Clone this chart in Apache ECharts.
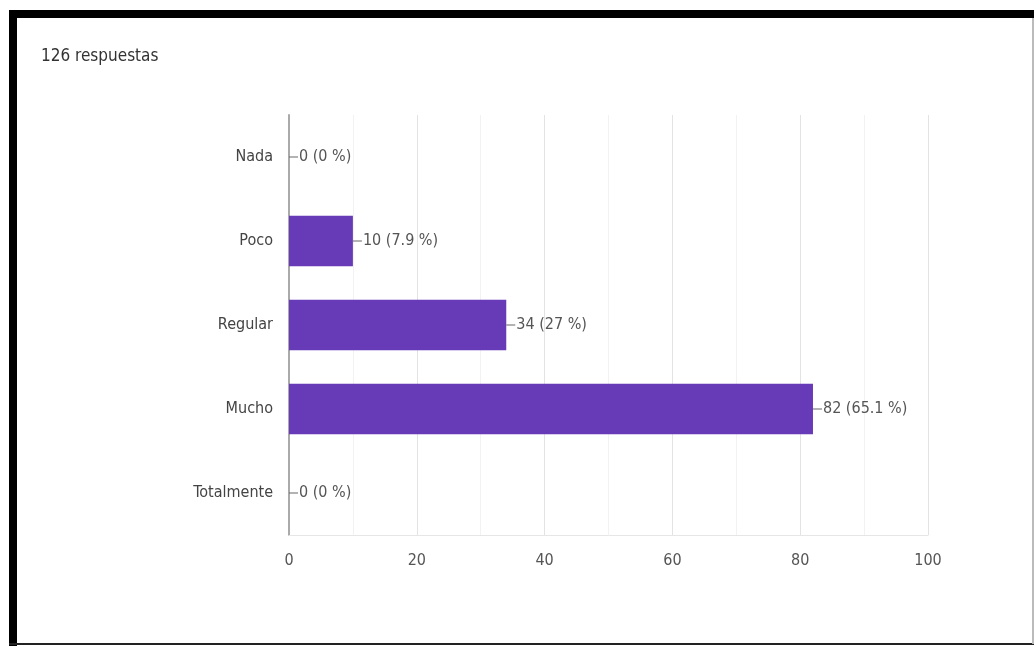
<!DOCTYPE html>
<html>
<head>
<meta charset="utf-8">
<script src="https://cdn.jsdelivr.net/npm/echarts@6/dist/echarts.min.js"></script>
<style>
html,body{margin:0;padding:0;background:#fff;}
#wrap{position:relative;width:1034px;height:647px;overflow:hidden;}
#chart{position:absolute;left:0;top:0;width:1034px;height:647px;}
.b{position:absolute;background:#000;}
</style>
</head>
<body>
<div id="wrap">
<div id="chart"></div>
<div class="b" style="left:9px;top:10px;width:8px;height:636px;"></div>
<div class="b" style="left:9px;top:10px;width:1025px;height:8px;"></div>
<div class="b" style="left:9px;top:643px;width:1025px;height:2px;background:#222;"></div>
<div class="b" style="left:1032px;top:18px;width:2px;height:626px;background:#bbb;"></div>
</div>
<script>
const categories = ['Nada', 'Poco', 'Regular', 'Mucho', 'Totalmente'];
const counts = [0, 10, 34, 82, 0];
const percents = ['0 %', '7.9 %', '27 %', '65.1 %', '0 %'];
const titleText = '126 respuestas';

const FONT = '"Liberation Sans Narrow", "DejaVu Sans Condensed", Roboto, sans-serif';
const chart = echarts.init(document.getElementById('chart'));
chart.setOption({
  animation: false,
  title: {
    text: titleText, left: 36, top: 43,
    textStyle: {fontFamily: FONT, fontSize: 17, fontWeight: 'normal', color: '#333'}
  },
  grid: {left: 289, right: 106, top: 115, bottom: 112},
  xAxis: {
    type: 'value', min: 0, max: 100, interval: 20,
    axisLine: {show: true, lineStyle: {color: '#e6e6e6'}},
    axisTick: {show: false},
    minorTick: {show: false, splitNumber: 2},
    splitLine: {show: true, lineStyle: {color: '#e3e3e3'}},
    minorSplitLine: {show: true, lineStyle: {color: '#f2f2f2'}},
    axisLabel: {color: '#555', fontFamily: FONT, fontSize: 16, margin: 18}
  },
  yAxis: {
    type: 'category', data: categories, inverse: true,
    axisLine: {show: true, lineStyle: {color: '#aaa', width: 2}},
    axisTick: {show: false},
    axisLabel: {color: '#444', fontFamily: FONT, fontSize: 16, margin: 16}
  },
  series: [{
    type: 'bar',
    data: counts,
    barCategoryGap: '40%',
    itemStyle: {color: '#673ab7'},
    label: {
      show: true, position: 'right', distance: 0,
      formatter: function (p) { return '{l|}' + '{t|' + p.value + ' (' + percents[p.dataIndex] + ')}'; },
      rich: {
        l: {width: 9, height: 1, backgroundColor: '#666'},
        t: {color: '#555', fontFamily: FONT, fontSize: 16, padding: [0, 0, 0, 1]}
      }
    }
  }]
});
</script>
</body>
</html>
